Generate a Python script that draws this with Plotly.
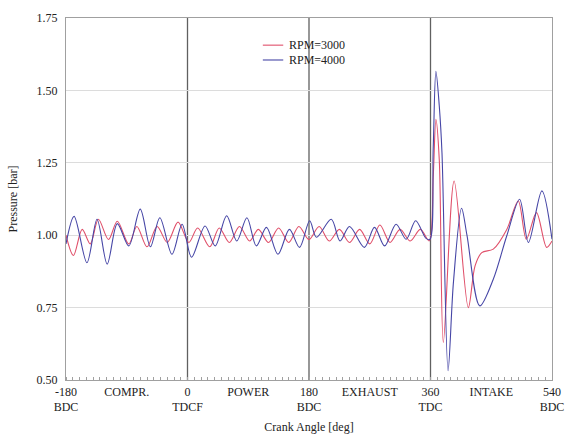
import plotly.graph_objects as go

ang_3000 = [-180, -169, -156, -144, -132, -117, -104, -87, -75, -60, -45, -30, -14, 2, 15, 33, 47, 62, 77,
            92, 105, 120, 135, 150, 165, 180, 195, 210, 225, 240, 255, 270, 285, 300, 315, 330, 345, 358,
            364, 368, 373, 379, 395, 416, 426, 436, 453, 473, 490, 502, 517, 532, 540]
p_3000 = [1.00, 0.93, 1.02, 0.97, 1.055, 0.985, 1.048, 0.97, 1.03, 0.96, 1.03, 0.975, 1.045, 0.975, 1.025,
          0.96, 1.025, 0.975, 1.03, 0.98, 1.02, 0.975, 1.025, 0.975, 1.03, 0.985, 1.03, 0.98, 1.02, 0.975,
          1.02, 0.97, 1.035, 0.975, 1.02, 0.98, 1.02, 0.98,
          1.20, 1.40, 1.26, 0.63, 1.187, 0.75, 0.894, 0.94, 0.952, 1.02, 1.118, 0.986, 1.078, 0.958, 0.98]

ang_4000 = [-180, -168, -149, -134, -119, -104, -87, -70, -55, -41, -23, -8, 6, 26, 41, 58, 73, 88, 102,
            117, 134, 151, 166, 181, 191, 213, 226, 240, 262, 277, 292, 309, 324, 338, 353, 359,
            364, 368, 373, 377, 386, 394, 406, 414, 433, 453, 473, 492, 505, 525, 540]
p_4000 = [0.97, 1.065, 0.905, 1.055, 0.90, 1.04, 0.963, 1.09, 0.96, 1.06, 0.934, 1.038, 0.924, 1.032,
          0.963, 1.067, 0.98, 1.06, 0.963, 1.027, 0.934, 1.02, 0.958, 1.05, 0.993, 1.055, 0.98, 1.03,
          0.958, 1.027, 0.963, 1.038, 0.986, 1.05, 0.99, 0.985,
          1.30, 1.566, 1.446, 1.285, 0.532, 0.838, 1.093, 1.0, 0.756, 0.848, 0.998, 1.124, 0.975, 1.153, 0.986]

series_names = ["RPM=3000", "RPM=4000"]
series_colors = ["#e0506a", "#4646a6"]

x_tickvals = [-180, -90, 0, 90, 180, 270, 360, 450, 540]
x_ticktext = ["-180<br>BDC", "COMPR.", "0<br>TDCF", "POWER", "180<br>BDC", "EXHAUST",
              "360<br>TDC", "INTAKE", "540<br>BDC"]
y_tickvals = [0.50, 0.75, 1.00, 1.25, 1.50, 1.75]
stroke_lines = [0, 180, 360]

FONT = "Liberation Serif, Times New Roman, serif"

fig = go.Figure()
for xs, ys, nm, col in [(ang_3000, p_3000, series_names[0], series_colors[0]),
                        (ang_4000, p_4000, series_names[1], series_colors[1])]:
    fig.add_trace(go.Scatter(x=xs, y=ys, mode="lines", name=nm, showlegend=False,
                             line=dict(color=col, width=1.1, shape="spline", smoothing=0.9)))

for v in stroke_lines:
    fig.add_shape(type="line", x0=v, x1=v, y0=0, y1=1, xref="x", yref="paper",
                  line=dict(color="#606060", width=1.3), layer="below")

# compact legend (line sample + label)
leg_y = [0.925, 0.884]
for i, (nm, col) in enumerate(zip(series_names, series_colors)):
    fig.add_shape(type="line", xref="paper", yref="paper", x0=0.405, x1=0.447,
                  y0=leg_y[i], y1=leg_y[i], line=dict(color=col, width=1.1))
    fig.add_annotation(xref="paper", yref="paper", x=0.455, y=leg_y[i], text=nm,
                       showarrow=False, xanchor="left", yanchor="middle",
                       font=dict(family=FONT, size=12, color="#222"))

fig.update_layout(
    width=570, height=434,
    margin=dict(l=66, r=18, t=18, b=54),
    paper_bgcolor="white", plot_bgcolor="white",
    font=dict(family=FONT, size=12, color="#222"),
    showlegend=False,
    xaxis=dict(range=[-180, 540], tickvals=x_tickvals, ticktext=x_ticktext, automargin=False,
               showgrid=False, zeroline=False, showline=True, mirror=True,
               linecolor="#a0a0a0", linewidth=1.3, ticks="", tickfont=dict(size=12),
               minor=dict(dtick=10, ticks="inside", ticklen=3, tickcolor="#a0a0a0", showgrid=False),
               title=dict(text="Crank Angle [deg]", standoff=9, font=dict(size=12))),
    yaxis=dict(range=[0.5, 1.75], tickvals=y_tickvals, tickformat=".2f", automargin=False,
               showgrid=True, gridcolor="#dcdcdc", gridwidth=1.3, zeroline=False,
               showline=True, mirror=True, linecolor="#a0a0a0", linewidth=1.3,
               ticks="outside", ticklen=5, tickcolor="rgba(0,0,0,0)", tickfont=dict(size=12),
               title=dict(text="Pressure [bar]", standoff=16, font=dict(size=12))),
)

fig.write_html("out.html")
